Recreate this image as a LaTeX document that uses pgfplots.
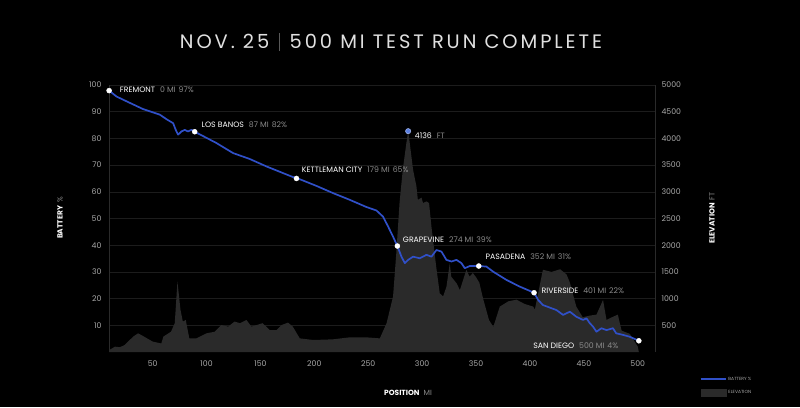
\documentclass[border=0pt]{standalone}
\usepackage{pgfplots}
\pgfplotsset{compat=1.18}
\usepackage{fontspec}
\setmainfont{Poppins}
\newfontfamily\titlefont[LetterSpace=15]{Poppins}
\definecolor{gridc}{HTML}{1C1C1C}
\definecolor{axc}{HTML}{2A2A2A}
\definecolor{areac}{HTML}{2A2A2A}
\definecolor{batt}{HTML}{3050C8}
\definecolor{tickc}{HTML}{A8A8A8}
\definecolor{labc}{HTML}{8A8A8A}
\definecolor{peakc}{HTML}{5B7FE0}

\pgfplotstableread{
mi ft
9.5 0
10 40
15 100
19.5 90
24 130
32 290
36.5 350
41 300
50 195
58 160
60 290
67 380
70.5 540
73 1320
75.8 790
78 570
80.7 600
84 255
90.6 255
100 350
107.6 380
113.8 505
120 475
126 570
131 540
137 600
141.6 475
152 540
158.6 410
165 410
169.5 505
175.6 550
180 475
186.5 255
199 225
217 237
233 275
248 275
260.7 255
267 540
273 1040
276 1850
279 2790
282 3410
285.4 3920
287 4136
288.5 3910
291.6 3410
294.7 3100
296 2850
299.4 2890
300.8 2790
304 2820
306.4 2790
308.6 2350
313 1600
316.3 1100
319.4 1040
322.5 1220
325.6 1660
327 1410
331.8 1290
335 1160
338 1350
341 1540
344 1410
347 1480
350 1400
353 1300
356.5 1000
362 600
366 470
372 850
380 950
387.5 980
395 900
403 850
404.5 790
412 1540
420 1500
428 1550
434 1450
437 1300
443 850
449 650
455 680
461.7 700
467.8 975
471 600
476 650
481.5 700
485 400
492.6 340
500 100
501 0
}\elevtable

\pgfplotstableread{
mi pct
9.6 97.9
16.4 95.7
25.7 93.9
41 91
56.6 88.9
62.8 87.2
69 85.7
71.4 83.2
73.6 81.4
76.7 82.6
79.8 83.2
82.8 82.6
86 83.2
89 82.5
109 78.3
124.6 74.5
140 72.3
155.6 69.5
171 67
183.4 65
186.5 64.7
202 62.2
217.4 59.5
232.8 57
248.3 54.3
257.6 53
263.7 50.7
268.4 47
273 43.2
277 39.7
280.8 35.7
283.9 33.3
287 34.5
291.6 35.7
297.8 35.1
304 36.4
308.6 35.7
313.3 38.2
317.9 37.6
322.5 34.5
327.2 33.9
331.8 34.5
336.4 33.3
339.5 31.4
344.2 32.2
352.5 32.2
359.6 32
365.8 30.1
378.2 27
390.5 24.5
403.8 22.2
407.6 19.5
412 17.6
424.6 15.7
430.7 13.9
437 15.1
443 13.2
449.3 12
452.4 12.6
455.5 10.8
458.5 9.5
461.7 7.6
466.3 8.9
471 8.2
477 8.9
480 7
486.4 6.4
492.6 5.7
501 4.2
}\batttable

\pgfplotstableread{
mi pct
9.6 97.9
89 82.5
183.4 65
277 39.7
352.5 32.2
403.8 22.2
501 4.2
}\citytable

\newcommand{\lbl}[2]{{\color{white}#1}\hspace{5bp}{\color{labc}#2}}

\begin{document}
\begin{tikzpicture}[x=1bp,y=1bp]
\useasboundingbox (0,0) rectangle (800,407);
\fill[black] (0,0) rectangle (800,407);

% elevation axis (right)
\begin{axis}[
  at={(109bp,55bp)}, anchor=south west,
  scale only axis, width=546bp, height=267bp,
  xmin=9.5, xmax=516, ymin=0, ymax=5000,
  axis x line=none,
  axis y line*=right,
  y axis line style={draw=axc, line width=0.6bp, -},
  ytick={500,1000,...,5000},
  major tick length=0pt,
  ymajorgrids, grid style={draw=gridc, line width=0.6bp},
  /pgf/number format/assume math mode=true,
  /pgf/number format/set thousands separator={},
  yticklabel style={font=\fontsize{7.8}{8}\selectfont, color=tickc, xshift=3bp},
  clip=false,
]
\addplot[fill=areac, draw=none] table[x=mi, y=ft] {\elevtable} \closedcycle;
\addplot[only marks, mark=*, mark size=2.6bp, mark options={fill=peakc, draw=peakc!60!white, line width=0.6bp}] coordinates {(287,4136)};
\node[anchor=west, font=\fontsize{7.8}{8}\selectfont, inner sep=0pt] at (axis cs:293.1,4050) {\lbl{4136}{FT}};
\end{axis}

% battery axis (left)
\begin{axis}[
  at={(109bp,55bp)}, anchor=south west,
  scale only axis, width=546bp, height=267bp,
  xmin=9.5, xmax=516, ymin=0, ymax=100,
  axis y line*=left,
  axis x line*=bottom,
  x axis line style={draw=none},
  y axis line style={draw=axc, line width=0.6bp, -},
  ytick={10,20,...,100},
  xtick={50,100,...,500},
  major tick length=0pt,
  /pgf/number format/assume math mode=true,
  yticklabel style={font=\fontsize{7.8}{8}\selectfont, color=tickc, xshift=-4bp},
  xticklabel style={font=\fontsize{7.8}{8}\selectfont, color=tickc, yshift=-5bp},
  clip=false,
  legend style={at={(1.082,-0.085)}, anchor=north west, draw=none, fill=none,
    font=\fontsize{4.5}{5}\selectfont, text=tickc, row sep=5bp,
    inner sep=0pt, cells={anchor=west}},
]
\addplot[batt, line width=1.7bp, line join=round, forget plot] table[x=mi, y=pct] {\batttable};
\addplot[only marks, mark=*, mark size=2.5bp, mark options={fill=white, draw=white}, forget plot] table[x=mi, y=pct] {\citytable};
\addlegendimage{legend image code/.code={\draw[batt, line width=1.5bp] (0bp,0bp) -- (25bp,0bp);}}
\addlegendentry{BATTERY \%}
\addlegendimage{legend image code/.code={\fill[areac] (0bp,-3.5bp) rectangle (25bp,3.5bp);}}
\addlegendentry{ELEVATION}

\begin{scope}[every node/.style={anchor=west, font=\fontsize{7.8}{8}\selectfont, inner sep=0pt}]
\node at (axis cs:19.5,98.2) {\lbl{FREMONT}{0 MI\hspace{3bp}97\%}};
\node at (axis cs:95.3,85.1) {\lbl{LOS BANOS}{87 MI\hspace{3bp}82\%}};
\node at (axis cs:188.3,68.2) {\lbl{KETTLEMAN CITY}{179 MI\hspace{3bp}65\%}};
\node at (axis cs:282,42) {\lbl{GRAPEVINE}{274 MI\hspace{3bp}39\%}};
\node at (axis cs:358.7,35.6) {\lbl{PASADENA}{352 MI\hspace{3bp}31\%}};
\node at (axis cs:410.7,22.9) {\lbl{RIVERSIDE}{401 MI\hspace{3bp}22\%}};
\node at (axis cs:402.9,2.5) {\lbl{SAN DIEGO}{500 MI\hspace{3bp}4\%}};
\end{scope}
\end{axis}

% titles and axis labels
\node[font=\titlefont\fontsize{19.5}{21}\selectfont, color=white!88!black] at (391,365)
  {NOV. 25\hspace{10bp}{\color{white!35!black}\rule[-2.5bp]{0.5bp}{18bp}}\hspace{10bp}500 MI TEST RUN COMPLETE};
\node[rotate=90, font=\fontsize{7.5}{8}\selectfont] at (60,189) {{\color{white}\bfseries BATTERY}\hspace{3bp}{\color{labc}\%}};
\node[rotate=90, font=\fontsize{7.5}{8}\selectfont] at (712,189) {{\color{white}\bfseries ELEVATION}\hspace{3bp}{\color{labc}FT}};
\node[font=\fontsize{7.5}{8}\selectfont] at (408,14.5) {{\color{white}\bfseries POSITION}\hspace{4bp}{\color{labc}MI}};
\end{tikzpicture}
\end{document}
